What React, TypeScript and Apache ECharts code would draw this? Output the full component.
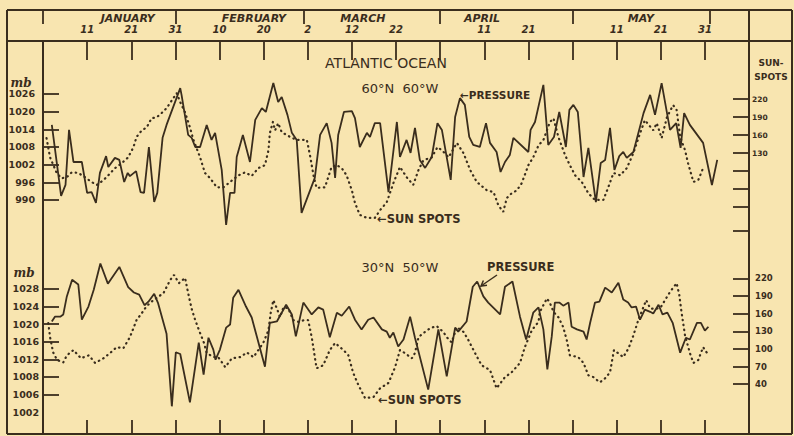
import React, { useEffect, useRef } from "react";
import * as echarts from "echarts";

// ---- axis ticks / labels ----
const dayTicks = [1, 11, 21, 31, 41, 51, 61, 71, 81, 91, 101, 111, 121, 131, 141, 151];
const dayTickLabels = ["", "11", "21", "31", "10", "20", "2", "12", "22", "", "11", "21", "", "11", "21", "31"];
const monthBoundaries = [1, 31, 60, 91, 121, 152];
const monthLabelDays = [20.2, 48.8, 73.5, 100.5, 136.5];
const monthNames = ["JANUARY", "FEBRUARY", "MARCH", "APRIL", "MAY"];

const topPressureTicks = [990, 996, 1002, 1008, 1014, 1020, 1026];
const topSunTicks = [0, 40, 70, 100, 130, 160, 190, 220];
const topSunLabels = [130, 160, 190, 220];
const bottomPressureTicks = [1004, 1008, 1012, 1016, 1020, 1024, 1028];
const bottomPressureLabelValues = [1000, 1004, 1008, 1012, 1016, 1020, 1024, 1028];
const bottomPressureLabelTexts = ["1002", "1006", "1008", "1012", "1016", "1020", "1024", "1028"];
const bottomSunTicks = [40, 70, 100, 130, 160, 190, 220];

// ---- data: [day of year, value] ----
const topPressure = [
  [3.0, 1015.5], [5.1, 991.4], [6.1, 995.1], [6.9, 1013.8], [7.9, 1002.9], [9.8, 1002.9], [11.0, 992.4], [12.0, 992.7],
  [13.0, 989.0], [13.9, 999.2], [15.3, 1004.9], [15.8, 1001.2], [17.3, 1004.3], [18.3, 1003.6], [19.4, 996.1], [20.2, 999.2],
  [20.7, 998.1], [22.1, 999.8], [23.1, 992.7], [23.9, 992.4], [25.0, 1008.0], [26.2, 989.3], [26.9, 992.4], [28.1, 1011.1],
  [29.0, 1015.5], [32.1, 1028.0], [32.4, 1025.7], [33.9, 1012.1], [34.7, 1011.1], [35.5, 1008.0], [36.6, 1008.0], [38.1, 1015.5],
  [39.2, 1010.4], [40.0, 1012.8], [41.5, 1000.2], [42.5, 981.5], [43.4, 992.4], [44.4, 992.4], [44.9, 1004.6], [46.3, 1012.1],
  [47.9, 1002.9], [49.1, 1017.2], [50.6, 1021.2], [51.5, 1019.9], [53.2, 1029.7], [54.3, 1023.3], [55.1, 1025.0], [56.4, 1018.9],
  [57.4, 1012.8], [58.5, 1010.4], [59.6, 985.6], [62.6, 997.5], [63.8, 1012.1], [65.3, 1016.1], [66.4, 1009.4], [67.2, 997.5],
  [67.9, 1012.1], [69.2, 1019.9], [71.0, 1020.2], [71.7, 1017.8], [72.8, 1008.0], [74.4, 1012.8], [75.1, 1011.4], [76.2, 1016.1],
  [77.4, 1016.1], [79.3, 992.7], [81.2, 1016.5], [81.9, 1004.6], [83.4, 1010.4], [84.3, 1006.0], [85.3, 1014.5], [86.4, 1003.6],
  [87.6, 1000.9], [89.1, 1004.6], [90.4, 1016.1], [91.4, 1013.8], [93.4, 996.8], [94.4, 1018.2], [95.5, 1024.6], [96.6, 1022.3],
  [97.6, 1011.4], [98.5, 1008.7], [100.0, 1008.0], [101.4, 1016.1], [102.3, 1009.4], [103.8, 1006.3], [104.7, 999.5], [105.7, 1002.9],
  [106.8, 1005.3], [107.6, 1011.1], [111.0, 1006.3], [111.5, 1013.8], [112.5, 1016.5], [114.4, 1029.1], [115.5, 1008.7], [116.8, 1011.4],
  [118.0, 1019.9], [119.5, 1008.0], [120.3, 1020.6], [121.2, 1022.3], [122.2, 1019.9], [123.5, 997.8], [124.6, 1007.7], [126.3, 989.3],
  [127.4, 1002.6], [128.4, 1003.6], [129.5, 1014.5], [130.5, 1000.2], [131.6, 1004.9], [132.5, 1006.3], [133.3, 1004.3], [134.8, 1006.3],
  [137.1, 1019.5], [138.6, 1025.7], [139.7, 1018.9], [141.2, 1029.7], [143.1, 1013.8], [144.5, 1016.1], [145.5, 1007.7], [146.3, 1019.5],
  [147.6, 1015.5], [150.6, 1009.4], [152.6, 995.1], [153.8, 1003.6],
];

const topSunspots = [
  [1.8, 155], [2.6, 123], [4.1, 97], [5.2, 88], [6.4, 90], [7.5, 98], [9.0, 97], [10.5, 90], [12.0, 82], [13.2, 77],
  [14.7, 85], [15.8, 93], [17.3, 105], [18.8, 113], [20.3, 123], [21.5, 140], [22.2, 157], [23.4, 168], [24.5, 173], [25.6, 188],
  [26.8, 190], [27.9, 197], [29.0, 205], [30.2, 218], [31.3, 230], [32.1, 215], [33.2, 198], [34.3, 173], [35.1, 152], [36.6, 123],
  [37.7, 97], [38.9, 88], [40.4, 73], [41.9, 73], [43.4, 82], [45.3, 93], [46.8, 98], [48.3, 92], [49.8, 105], [51.3, 110],
  [52.1, 135], [52.4, 163], [53.1, 182], [53.6, 168], [54.3, 180], [55.1, 165], [57.0, 157], [58.5, 152], [60.8, 152], [61.5, 127],
  [62.3, 93], [63.0, 72], [64.9, 73], [66.4, 107], [67.6, 110], [68.7, 105], [69.8, 93], [71.0, 68], [71.7, 47], [72.8, 27],
  [74.4, 22], [76.2, 22], [77.4, 35], [78.9, 48], [80.4, 80], [81.9, 107], [83.4, 90], [84.9, 77], [86.1, 102], [87.2, 118],
  [89.1, 123], [90.4, 140], [91.4, 135], [92.9, 123], [94.8, 147], [96.3, 130], [97.8, 102], [99.3, 82], [101.6, 68], [103.1, 65],
  [104.2, 43], [105.3, 32], [106.1, 55], [107.2, 63], [108.4, 68], [109.5, 80], [111.0, 110], [112.1, 123], [113.3, 143], [114.4, 152],
  [115.9, 182], [116.7, 188], [117.8, 157], [119.3, 127], [120.4, 110], [121.6, 93], [123.1, 82], [124.6, 63], [126.1, 52], [128.0, 52],
  [129.1, 73], [130.3, 97], [131.8, 93], [133.3, 105], [134.8, 130], [136.3, 163], [137.4, 185], [139.3, 168], [140.1, 180], [141.2, 155],
  [142.4, 190], [143.8, 210], [144.6, 202], [145.4, 157], [146.5, 135], [147.2, 113], [148.4, 82], [149.5, 85], [150.6, 105],
];

const bottomPressure = [
  [3.0, 1020.6], [3.7, 1021.7], [4.9, 1021.7], [5.6, 1022.2], [6.4, 1026.3], [7.6, 1030.1], [9.0, 1029.0], [9.8, 1021.0],
  [11.3, 1024.0], [12.5, 1027.8], [14.0, 1033.8], [15.7, 1029.2], [18.3, 1033.0], [20.3, 1028.4], [21.6, 1027.2], [22.8, 1026.7],
  [24.0, 1024.3], [24.9, 1025.1], [26.2, 1026.9], [27.1, 1024.7], [29.0, 1017.8], [30.2, 1001.3], [31.1, 1013.6], [32.1, 1013.2],
  [34.3, 1002.2], [36.3, 1015.8], [37.4, 1008.5], [38.5, 1016.9], [39.6, 1014.2], [40.1, 1011.9], [41.1, 1014.2], [42.5, 1019.2],
  [43.4, 1019.9], [44.1, 1026.0], [45.3, 1027.8], [47.0, 1024.0], [48.3, 1021.5], [51.3, 1010.3], [52.4, 1020.3], [54.0, 1020.6],
  [56.1, 1024.4], [57.4, 1022.2], [58.3, 1017.2], [60.0, 1024.9], [61.9, 1022.2], [63.4, 1023.8], [64.5, 1023.3], [66.0, 1017.0],
  [67.6, 1022.6], [68.7, 1021.9], [70.4, 1024.0], [71.7, 1021.0], [73.2, 1018.8], [74.7, 1021.0], [75.9, 1021.5], [77.8, 1018.8],
  [78.9, 1018.3], [79.6, 1016.9], [80.4, 1018.1], [81.5, 1014.9], [82.7, 1016.5], [84.2, 1021.7], [85.3, 1016.9], [88.3, 1005.1],
  [90.6, 1018.8], [92.5, 1008.1], [94.4, 1019.2], [95.1, 1018.3], [97.0, 1020.6], [98.4, 1028.5], [99.4, 1029.7], [100.8, 1026.3],
  [101.9, 1024.9], [104.6, 1022.2], [105.7, 1028.5], [107.4, 1029.7], [109.1, 1021.7], [110.5, 1016.5], [112.1, 1022.6], [113.3, 1023.8],
  [114.4, 1018.8], [115.3, 1009.7], [116.3, 1017.2], [117.0, 1024.9], [118.0, 1024.9], [118.9, 1024.2], [120.1, 1024.9], [120.8, 1019.4],
  [122.0, 1018.8], [123.5, 1018.3], [124.2, 1016.5], [125.0, 1020.3], [126.1, 1024.9], [127.1, 1025.1], [128.4, 1028.3], [129.9, 1027.2],
  [131.4, 1029.4], [132.5, 1025.6], [133.6, 1024.9], [134.4, 1023.8], [135.4, 1024.0], [136.3, 1021.0], [137.4, 1023.3], [138.6, 1022.8],
  [139.3, 1022.4], [140.5, 1024.4], [141.4, 1022.2], [142.5, 1022.6], [143.7, 1020.3], [145.4, 1013.5], [146.7, 1016.9], [147.6, 1016.5],
  [149.2, 1020.3], [150.1, 1020.3], [151.0, 1018.5], [151.8, 1019.4],
];

const bottomSunspots = [
  [2.2, 144], [2.6, 120], [3.3, 94], [4.2, 81], [5.6, 77], [6.4, 89], [7.9, 98], [9.6, 84], [11.4, 89], [12.8, 76],
  [14.7, 84], [16.2, 93], [17.7, 103], [19.2, 101], [20.7, 120], [22.2, 149], [23.4, 161], [24.5, 173], [26.0, 183], [28.3, 195],
  [29.8, 217], [30.7, 226], [31.8, 212], [33.2, 221], [33.9, 195], [34.7, 168], [35.5, 149], [36.6, 127], [37.5, 110], [38.1, 93],
  [39.6, 86], [40.7, 86], [42.3, 69], [43.8, 84], [45.7, 86], [47.2, 94], [48.7, 86], [49.8, 98], [50.9, 110], [52.1, 132],
  [52.6, 161], [53.2, 183], [54.0, 169], [54.7, 154], [55.5, 171], [56.6, 169], [57.7, 149], [58.9, 146], [60.2, 149], [61.1, 149],
  [61.9, 120], [63.0, 67], [64.5, 72], [66.0, 98], [67.2, 110], [69.1, 98], [70.2, 89], [71.3, 59], [72.5, 38], [74.0, 16],
  [75.9, 18], [77.4, 33], [79.3, 42], [80.8, 69], [81.9, 98], [83.0, 93], [84.6, 84], [85.3, 93], [86.1, 120], [87.2, 127],
  [88.7, 135], [90.2, 139], [91.7, 129], [92.5, 120], [93.6, 111], [94.8, 137], [96.3, 129], [97.4, 115], [98.9, 93], [100.4, 72],
  [102.3, 64], [103.8, 33], [105.7, 52], [107.2, 60], [109.1, 76], [110.2, 103], [111.8, 132], [113.3, 146], [113.6, 163], [115.2, 186],
  [115.9, 178], [116.7, 163], [117.8, 154], [118.9, 137], [119.7, 115], [120.4, 89], [122.3, 86], [123.5, 76], [124.6, 55], [125.7, 52],
  [127.2, 43], [128.4, 50], [129.5, 60], [130.4, 98], [132.5, 86], [133.7, 101], [134.8, 123], [135.9, 149], [137.7, 183], [138.6, 169],
  [139.9, 168], [141.0, 171], [142.2, 186], [143.1, 197], [144.6, 212], [145.2, 192], [145.7, 163], [146.5, 123], [147.6, 93], [148.4, 76],
  [149.5, 81], [150.6, 103], [151.4, 94],
];

const INK = "#3a2d1d";
const BG = "#f8e5b0";
const FONT = "DejaVu Sans";

const pick = (vals: number[], texts: string[]) => (v: number) => {
  const i = vals.findIndex((x) => Math.abs(x - v) < 1e-6);
  return i >= 0 ? texts[i] : "";
};
const plain = (v: number) => String(v);

export default function App() {
  const ref = useRef<HTMLDivElement>(null);

  useEffect(() => {
    if (!ref.current) return;
    const chart = echarts.init(ref.current, undefined, { renderer: "svg" });

    const tickStyle = { color: INK, width: 1.8 };
    const solid = { color: INK, width: 1.8 };
    const dotted = { color: INK, width: 2.2, type: [0.5, 4.5], cap: "round" };
    const noLine = { show: false, onZero: false };

    const frameLine = (x1: number, y1: number, x2: number, y2: number) => ({
      type: "line",
      shape: { x1, y1, x2, y2 },
      style: { stroke: INK, lineWidth: 2 },
      silent: true,
    });
    const label = (text: string, x: number, y: number, size: number, extra: any = {}) => ({
      type: "text",
      x,
      y,
      silent: true,
      style: {
        text,
        fill: INK,
        font: `${extra.weight || "bold"} ${size}px "${FONT}"`,
        align: extra.align || "left",
        verticalAlign: "middle",
        lineHeight: extra.lineHeight,
      },
    });

    const option: any = {
      animation: false,
      backgroundColor: BG,
      grid: [
        { left: 43, right: 45, top: 41, height: 194.3 },
        { left: 43, right: 45, top: 245, height: 189 },
      ],
      xAxis: [
        {
          gridIndex: 0,
          type: "value",
          min: 1,
          max: 161,
          position: "top",
          axisLine: noLine,
          splitLine: { show: false },
          axisTick: { show: true, inside: true, length: 19, customValues: dayTicks, lineStyle: tickStyle },
          axisLabel: {
            show: true,
            customValues: dayTicks,
            formatter: pick(dayTicks, dayTickLabels),
            margin: 7,
            color: INK,
            fontFamily: FONT,
            fontSize: 10,
            fontStyle: "italic",
            fontWeight: "bold",
          },
        },
        {
          gridIndex: 0,
          type: "value",
          min: 1,
          max: 161,
          position: "top",
          offset: 31,
          axisLine: noLine,
          splitLine: { show: false },
          axisTick: { show: true, inside: true, length: 14, customValues: monthBoundaries, lineStyle: tickStyle },
          axisLabel: {
            show: true,
            inside: true,
            customValues: monthLabelDays,
            formatter: pick(monthLabelDays, monthNames),
            margin: 3,
            color: INK,
            fontFamily: FONT,
            fontSize: 11,
            fontStyle: "italic",
            fontWeight: "bold",
          },
        },
        {
          gridIndex: 1,
          type: "value",
          min: 1,
          max: 161,
          position: "bottom",
          axisLine: noLine,
          splitLine: { show: false },
          axisTick: { show: true, inside: true, length: 14, customValues: dayTicks, lineStyle: tickStyle },
          axisLabel: { show: false },
        },
      ],
      yAxis: [
        {
          gridIndex: 0,
          type: "value",
          position: "left",
          min: 978,
          max: 1044,
          axisLine: noLine,
          splitLine: { show: false },
          axisTick: { show: true, inside: true, length: 16, customValues: topPressureTicks, lineStyle: tickStyle },
          axisLabel: { customValues: topPressureTicks, formatter: plain, margin: 8, color: INK, fontFamily: FONT, fontSize: 9.5, fontWeight: "bold" },
        },
        {
          gridIndex: 0,
          type: "value",
          position: "right",
          min: -7,
          max: 317,
          axisLine: noLine,
          splitLine: { show: false },
          axisTick: { show: true, inside: true, length: 16, customValues: topSunTicks, lineStyle: tickStyle },
          axisLabel: { customValues: topSunLabels, formatter: plain, margin: 3, color: INK, fontFamily: FONT, fontSize: 7.5, fontWeight: "bold" },
        },
        {
          gridIndex: 1,
          type: "value",
          position: "left",
          min: 995,
          max: 1038,
          axisLine: noLine,
          splitLine: { show: false },
          axisTick: { show: true, inside: true, length: 16, customValues: bottomPressureTicks, lineStyle: tickStyle },
          axisLabel: {
            customValues: bottomPressureLabelValues,
            formatter: pick(bottomPressureLabelValues, bottomPressureLabelTexts),
            margin: 4,
            color: INK,
            fontFamily: FONT,
            fontSize: 9.5,
            fontWeight: "bold",
          },
        },
        {
          gridIndex: 1,
          type: "value",
          position: "right",
          min: -45,
          max: 277,
          axisLine: noLine,
          splitLine: { show: false },
          axisTick: { show: true, inside: true, length: 16, customValues: bottomSunTicks, lineStyle: tickStyle },
          axisLabel: { customValues: bottomSunTicks, formatter: plain, margin: 6, color: INK, fontFamily: FONT, fontSize: 8.5, fontWeight: "bold" },
        },
      ],
      series: [
        { name: "Pressure 60N 60W", type: "line", xAxisIndex: 0, yAxisIndex: 0, data: topPressure, showSymbol: false, lineStyle: solid, z: 3 },
        { name: "Sunspots (upper)", type: "line", xAxisIndex: 0, yAxisIndex: 1, data: topSunspots, showSymbol: false, lineStyle: dotted, z: 2 },
        { name: "Pressure 30N 50W", type: "line", xAxisIndex: 2, yAxisIndex: 2, data: bottomPressure, showSymbol: false, lineStyle: solid, z: 3 },
        { name: "Sunspots (lower)", type: "line", xAxisIndex: 2, yAxisIndex: 3, data: bottomSunspots, showSymbol: false, lineStyle: dotted, z: 2 },
      ],
      graphic: [
        frameLine(7, 10, 792, 10),
        frameLine(7, 41, 792, 41),
        frameLine(7, 10, 7, 434),
        frameLine(792, 10, 792, 434),
        frameLine(7, 434, 792, 434),
        frameLine(43, 41, 43, 434),
        frameLine(749, 10, 749, 434),
        label("ATLANTIC OCEAN", 386, 63, 14, { align: "center", weight: "normal" }),
        label("60°N  60°W", 400, 88, 13, { align: "center", weight: "normal" }),
        label("←PRESSURE", 460, 95, 10.5),
        label("←SUN SPOTS", 377, 219, 11.5),
        label("30°N  50°W", 400, 267, 13, { align: "center", weight: "normal" }),
        label("PRESSURE", 487, 267, 11.5),
        label("←SUN SPOTS", 378, 400, 11.5),
        label("SUN-\nSPOTS", 771, 70, 9, { align: "center", lineHeight: 14 }),
        {
          type: "text",
          x: 21,
          y: 83,
          silent: true,
          style: { text: "mb", fill: INK, font: `italic bold 12px "DejaVu Serif"`, align: "center", verticalAlign: "middle" },
        },
        {
          type: "text",
          x: 24,
          y: 273,
          silent: true,
          style: { text: "mb", fill: INK, font: `italic bold 12px "DejaVu Serif"`, align: "center", verticalAlign: "middle" },
        },
        {
          type: "line",
          silent: true,
          shape: { x1: 497, y1: 275, x2: 481, y2: 286 },
          style: { stroke: INK, lineWidth: 1.5 },
        },
        {
          type: "polyline",
          silent: true,
          shape: { points: [[487, 285.3], [481, 286], [483.4, 280.5]] },
          style: { stroke: INK, lineWidth: 1.5, fill: null },
        },
      ],
    };

    chart.setOption(option);
    return () => chart.dispose();
  }, []);

  return <div ref={ref} style={{ position: "absolute", left: 0, top: 0, width: 794, height: 436 }} />;
}
